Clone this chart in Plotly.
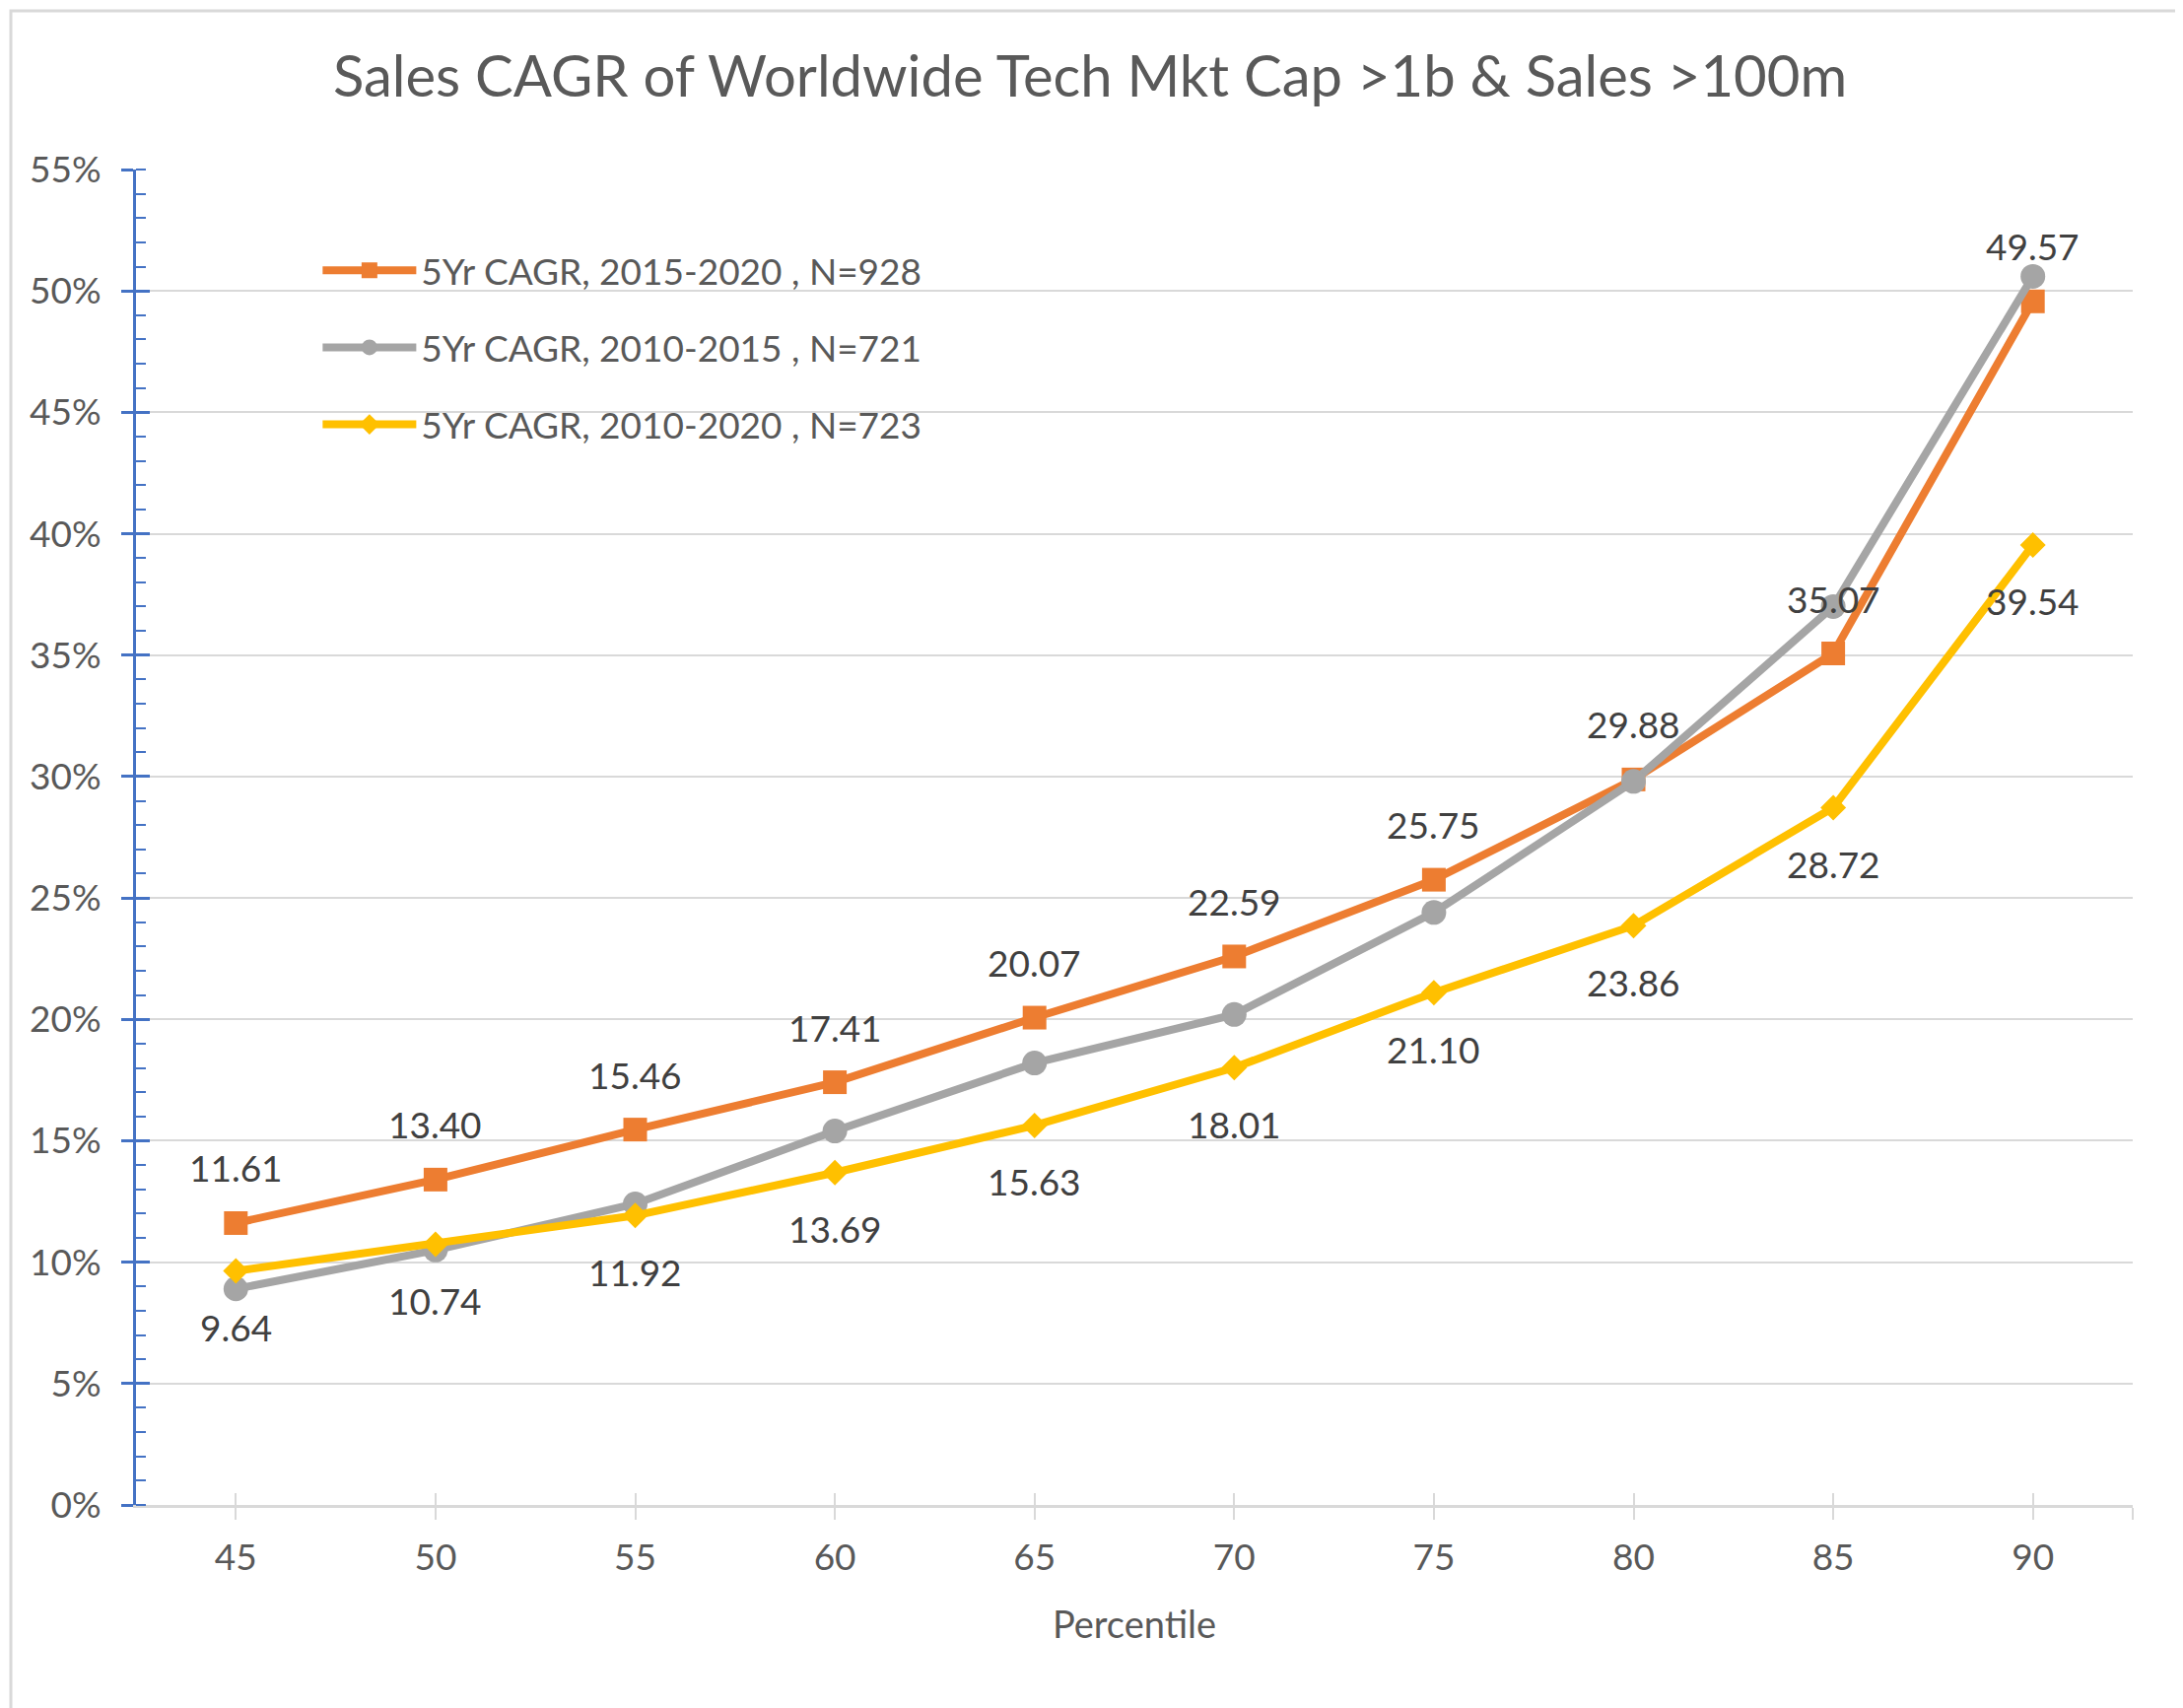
import plotly.graph_objects as go

# ---- data ----
percentiles = [45, 50, 55, 60, 65, 70, 75, 80, 85, 90]
tick_labels = ["45", "50", "55", "60", "65", "70", "75", "80", "85", "90"]
cagr_2015_2020 = [11.61, 13.40, 15.46, 17.41, 20.07, 22.59, 25.75, 29.88, 35.07, 49.57]
cagr_2010_2015 = [8.9, 10.5, 12.4, 15.4, 18.2, 20.2, 24.4, 29.8, 37.0, 50.6]
cagr_2010_2020 = [9.64, 10.74, 11.92, 13.69, 15.63, 18.01, 21.10, 23.86, 28.72, 39.54]
names = ["5Yr CAGR, 2015-2020 , N=928", "5Yr CAGR, 2010-2015 , N=721", "5Yr CAGR, 2010-2020 , N=723"]

W, H = 2215, 1733
OFF = 8
L, T = 138 - OFF, 172 - OFF
R = W - (2164 - OFF)
B = H - (1527 - OFF)
PW, PH = W - L - R, H - T - B
FONT = "Lato"
TXT = "#595959"
LBL = "#404040"
GRID = "#D9D9D9"
BLUE = "#4472C4"

fig = go.Figure()
series = [
    (cagr_2015_2020, "#ED7D31", "square", 24),
    (cagr_2010_2015, "#A5A5A5", "circle", 25),
    (cagr_2010_2020, "#FFC000", "diamond", 20),
]
for i, (vals, col, sym, ms) in enumerate(series):
    fig.add_trace(go.Scatter(
        x=percentiles, y=[v / 100 for v in vals], name=names[i],
        mode="lines+markers", legendgroup=f"g{i}",
        line=dict(color=col, width=8),
        marker=dict(color=col, symbol=sym, size=ms),
        cliponaxis=False,
    ))

# data labels: 2015-2020 above, 2010-2020 below
for x, v in zip(percentiles, cagr_2015_2020):
    fig.add_annotation(x=x, y=v / 100, text=f"{v:.2f}", showarrow=False,
                       yshift=56, font=dict(size=37, color=LBL, family=FONT))
for x, v in zip(percentiles, cagr_2010_2020):
    fig.add_annotation(x=x, y=v / 100, text=f"{v:.2f}", showarrow=False,
                       yshift=-57, font=dict(size=37, color=LBL, family=FONT))

xr = [percentiles[0] - 2.5, percentiles[-1] + 2.5]
xticks = percentiles + [xr[1]]
xtext = tick_labels + [""]

fig.update_layout(
    width=W, height=H,
    margin=dict(l=L, r=R, t=T, b=B),
    paper_bgcolor="white", plot_bgcolor="white",
    font=dict(family=FONT, color=TXT, size=37),
    title=dict(text="Sales CAGR of Worldwide Tech Mkt Cap >1b & Sales >100m",
               x=(1106 - OFF) / W, xref="container", xanchor="center",
               y=1 - (78 - OFF) / H, yref="container", yanchor="middle",
               font=dict(size=58, color=TXT, family=FONT)),
    showlegend=True,
    legend=dict(x=0.091, y=0.947, xanchor="left", yanchor="top",
                bgcolor="rgba(0,0,0,0)", font=dict(size=37, color=TXT, family=FONT),
                tracegroupgap=27, itemwidth=95),
    xaxis=dict(range=xr, tickvals=xticks, ticktext=xtext, showgrid=False,
               showline=True, linecolor=GRID, linewidth=3, zeroline=False,
               ticks="outside", ticklen=12, tickwidth=2, tickcolor=GRID,
               tickfont=dict(size=37, color=TXT), ticklabelstandoff=7,
               title=dict(text="Percentile", font=dict(size=38, color=TXT), standoff=35)),
    yaxis=dict(range=[0, 0.55], dtick=0.05, tickformat=".0%", showgrid=True,
               gridcolor=GRID, gridwidth=2, zeroline=False,
               showline=True, linecolor=BLUE, linewidth=3,
               ticks="outside", ticklen=12, tickwidth=3, tickcolor=BLUE,
               tickfont=dict(size=37, color=TXT), ticklabelstandoff=13,
               minor=dict(dtick=0.01, ticks="inside", ticklen=10, tickwidth=2, tickcolor=BLUE, showgrid=False)),
    xaxis2=dict(overlaying="x", matches="x", range=xr, tickvals=xticks, showticklabels=False,
                showgrid=False, showline=False, zeroline=False, ticks="inside", ticklen=12,
                tickwidth=2, tickcolor=GRID, anchor="y2"),
    yaxis2=dict(overlaying="y", matches="y", range=[0, 0.55], dtick=0.05, showticklabels=False,
                showgrid=False, showline=False, zeroline=False, ticks="inside", ticklen=14,
                tickwidth=3, tickcolor=BLUE, anchor="x2", side="left"),
)

# invisible trace to make overlay axes draw
fig.add_trace(go.Scatter(x=[xr[0]], y=[0], xaxis="x2", yaxis="y2", mode="markers",
                         marker=dict(opacity=0), showlegend=False, hoverinfo="skip"))

# chart border, figure coords 3..2211 x 3..1729
fig.add_shape(type="rect", xref="paper", yref="paper",
              x0=(3 - L) / PW, x1=(W - 4 - L) / PW,
              y0=((H - B) - (H - 4)) / PH, y1=((H - B) - 3) / PH,
              line=dict(color=GRID, width=3), layer="below")

fig.write_html("out.html")
